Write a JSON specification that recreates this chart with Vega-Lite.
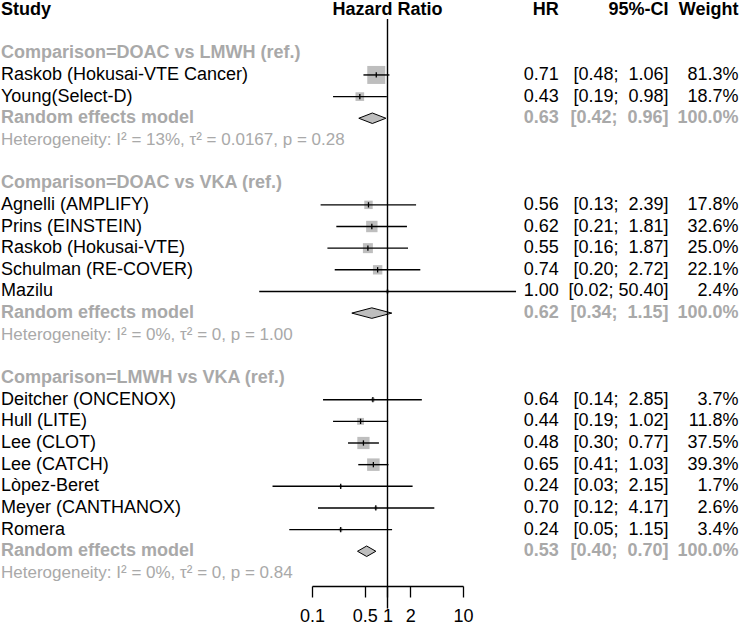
{
  "$schema": "https://vega.github.io/schema/vega-lite/v6.json",
  "padding": {"left": 1, "top": 0, "right": 0, "bottom": 0},
  "autosize": {"type": "pad"},
  "background": "white",
  "spacing": 0,
  "bounds": "flush",
  "config": {"view": {"stroke": null}, "font": "Liberation Sans", "text": {"font": "Liberation Sans", "fontSize": 18}},
  "datasets": {
    "rows": [
      {"row": 2, "kind": "group", "group": "DOAC vs LMWH", "label": "Comparison=DOAC vs LMWH (ref.)"},
      {"row": 3, "kind": "study", "group": "DOAC vs LMWH", "label": "Raskob (Hokusai-VTE Cancer)", "hr": 0.71, "lower": 0.48, "upper": 1.06, "ci": "[0.48;\u00a0\u00a01.06]", "w": 0.813},
      {"row": 4, "kind": "study", "group": "DOAC vs LMWH", "label": "Young(Select-D)", "hr": 0.43, "lower": 0.19, "upper": 0.98, "ci": "[0.19;\u00a0\u00a00.98]", "w": 0.187},
      {"row": 5, "kind": "summary", "group": "DOAC vs LMWH", "label": "Random effects model", "hr": 0.63, "lower": 0.42, "upper": 0.96, "ci": "[0.42;\u00a0\u00a00.96]", "w": 1},
      {"row": 6, "kind": "het", "group": "DOAC vs LMWH", "label": "Heterogeneity: I² = 13%, τ² = 0.0167, p = 0.28"},
      {"row": 8, "kind": "group", "group": "DOAC vs VKA", "label": "Comparison=DOAC vs VKA (ref.)"},
      {"row": 9, "kind": "study", "group": "DOAC vs VKA", "label": "Agnelli (AMPLIFY)", "hr": 0.56, "lower": 0.13, "upper": 2.39, "ci": "[0.13;\u00a0\u00a02.39]", "w": 0.178},
      {"row": 10, "kind": "study", "group": "DOAC vs VKA", "label": "Prins (EINSTEIN)", "hr": 0.62, "lower": 0.21, "upper": 1.81, "ci": "[0.21;\u00a0\u00a01.81]", "w": 0.326},
      {"row": 11, "kind": "study", "group": "DOAC vs VKA", "label": "Raskob (Hokusai-VTE)", "hr": 0.55, "lower": 0.16, "upper": 1.87, "ci": "[0.16;\u00a0\u00a01.87]", "w": 0.25},
      {"row": 12, "kind": "study", "group": "DOAC vs VKA", "label": "Schulman (RE-COVER)", "hr": 0.74, "lower": 0.2, "upper": 2.72, "ci": "[0.20;\u00a0\u00a02.72]", "w": 0.221},
      {"row": 13, "kind": "study", "group": "DOAC vs VKA", "label": "Mazilu", "hr": 1.0, "lower": 0.02, "upper": 50.4, "ci": "[0.02; 50.40]", "w": 0.024},
      {"row": 14, "kind": "summary", "group": "DOAC vs VKA", "label": "Random effects model", "hr": 0.62, "lower": 0.34, "upper": 1.15, "ci": "[0.34;\u00a0\u00a01.15]", "w": 1},
      {"row": 15, "kind": "het", "group": "DOAC vs VKA", "label": "Heterogeneity: I² = 0%, τ² = 0, p = 1.00"},
      {"row": 17, "kind": "group", "group": "LMWH vs VKA", "label": "Comparison=LMWH vs VKA (ref.)"},
      {"row": 18, "kind": "study", "group": "LMWH vs VKA", "label": "Deitcher (ONCENOX)", "hr": 0.64, "lower": 0.14, "upper": 2.85, "ci": "[0.14;\u00a0\u00a02.85]", "w": 0.037},
      {"row": 19, "kind": "study", "group": "LMWH vs VKA", "label": "Hull (LITE)", "hr": 0.44, "lower": 0.19, "upper": 1.02, "ci": "[0.19;\u00a0\u00a01.02]", "w": 0.118},
      {"row": 20, "kind": "study", "group": "LMWH vs VKA", "label": "Lee (CLOT)", "hr": 0.48, "lower": 0.3, "upper": 0.77, "ci": "[0.30;\u00a0\u00a00.77]", "w": 0.375},
      {"row": 21, "kind": "study", "group": "LMWH vs VKA", "label": "Lee (CATCH)", "hr": 0.65, "lower": 0.41, "upper": 1.03, "ci": "[0.41;\u00a0\u00a01.03]", "w": 0.393},
      {"row": 22, "kind": "study", "group": "LMWH vs VKA", "label": "Lòpez-Beret", "hr": 0.24, "lower": 0.03, "upper": 2.15, "ci": "[0.03;\u00a0\u00a02.15]", "w": 0.017},
      {"row": 23, "kind": "study", "group": "LMWH vs VKA", "label": "Meyer (CANTHANOX)", "hr": 0.7, "lower": 0.12, "upper": 4.17, "ci": "[0.12;\u00a0\u00a04.17]", "w": 0.026},
      {"row": 24, "kind": "study", "group": "LMWH vs VKA", "label": "Romera", "hr": 0.24, "lower": 0.05, "upper": 1.15, "ci": "[0.05;\u00a0\u00a01.15]", "w": 0.034},
      {"row": 25, "kind": "summary", "group": "LMWH vs VKA", "label": "Random effects model", "hr": 0.53, "lower": 0.4, "upper": 0.7, "ci": "[0.40;\u00a0\u00a00.70]", "w": 1},
      {"row": 26, "kind": "het", "group": "LMWH vs VKA", "label": "Heterogeneity: I² = 0%, τ² = 0, p = 0.84"}
    ]
  },
  "hconcat": [
    {
      "width": 310.7, "height": 584,
      "data": {"name": "rows"},
      "layer": [
        {
          "transform": [{"filter": "datum.kind === 'study'"}],
          "mark": {"type": "text", "align": "left", "baseline": "middle", "fontSize": 18, "color": "black"},
          "encoding": {"x": {"value": 0}, "y": {"field": "row", "type": "quantitative", "scale": {"domain": [-0.3695, 26.605], "reverse": true, "nice": false, "zero": false}, "axis": null}, "text": {"field": "label"}}
        },
        {
          "transform": [{"filter": "datum.kind === 'group' || datum.kind === 'summary'"}],
          "mark": {"type": "text", "align": "left", "baseline": "middle", "fontSize": 18, "fontWeight": "bold", "color": "#a9a9a9"},
          "encoding": {"x": {"value": 0}, "y": {"field": "row", "type": "quantitative", "scale": {"domain": [-0.3695, 26.605], "reverse": true, "nice": false, "zero": false}, "axis": null}, "text": {"field": "label"}}
        },
        {
          "transform": [{"filter": "datum.kind === 'het'"}],
          "mark": {"type": "text", "align": "left", "baseline": "middle", "fontSize": 17, "color": "#a9a9a9"},
          "encoding": {"x": {"value": 0}, "y": {"field": "row", "type": "quantitative", "scale": {"domain": [-0.3695, 26.605], "reverse": true, "nice": false, "zero": false}, "axis": null}, "text": {"field": "label"}}
        },
        {
          "data": {"values": [{}]},
          "mark": {"type": "text", "text": "Study", "align": "left", "baseline": "middle", "fontSize": 18, "fontWeight": "bold", "color": "black"},
          "encoding": {"x": {"value": 0}, "y": {"datum": 0, "type": "quantitative", "scale": {"domain": [-0.3695, 26.605], "reverse": true, "nice": false, "zero": false}, "axis": null}}
        }
      ]
    },
    {
      "width": 151, "height": 584,
      "data": {"name": "rows"},
      "layer": [
        {
          "transform": [{"filter": "datum.kind === 'study'"}],
          "mark": {"type": "point", "shape": "square", "filled": true, "color": "#bebebe", "opacity": 1, "strokeWidth": 0},
          "encoding": {
            "x": {"field": "hr", "type": "quantitative", "scale": {"type": "log", "domain": [0.1, 10], "nice": false},
                  "axis": {"values": [0.1, 0.5, 1, 2, 10], "format": "~g", "title": null, "grid": false, "domainColor": "black", "domainWidth": 1.3, "tickColor": "black", "tickWidth": 1.3, "tickSize": 11, "labelFontSize": 18, "labelColor": "black", "labelFont": "Liberation Sans", "labelPadding": 10, "labelFlush": false, "labelOverlap": false, "labelBound": false}},
            "y": {"field": "row", "type": "quantitative", "scale": {"domain": [-0.3695, 26.605], "reverse": true, "nice": false, "zero": false}, "axis": null},
            "size": {"field": "w", "type": "quantitative", "scale": {"domain": [0, 0.813], "range": [0, 324], "zero": true}, "legend": null}
          }
        },
        {
          "transform": [{"filter": "datum.kind === 'study'"}],
          "mark": {"type": "rule", "color": "black", "strokeWidth": 1.4},
          "encoding": {
            "x": {"field": "lower", "type": "quantitative"},
            "x2": {"field": "upper"},
            "y": {"field": "row", "type": "quantitative"}
          }
        },
        {
          "transform": [{"filter": "datum.kind === 'study'"}],
          "mark": {"type": "tick", "orient": "vertical", "size": 5.3, "thickness": 1.3, "color": "black", "opacity": 1},
          "encoding": {
            "x": {"field": "hr", "type": "quantitative"},
            "y": {"field": "row", "type": "quantitative"}
          }
        },
        {
          "transform": [{"filter": "datum.kind === 'summary'"}],
          "mark": {"type": "point", "filled": true, "fill": "#bebebe", "stroke": "black", "strokeWidth": 1, "size": 1600, "opacity": 1},
          "encoding": {
            "x": {"field": "hr", "type": "quantitative"},
            "y": {"field": "row", "type": "quantitative"},
            "shape": {"field": "group", "type": "nominal", "scale": {"domain": ["DOAC vs LMWH", "DOAC vs VKA", "LMWH vs VKA"], "range": ["M-0.678,0L0,-0.263L0.678,0L0,0.263Z", "M-1,0L0,-0.263L1,0L0,0.263Z", "M-0.459,0L0,-0.263L0.459,0L0,0.263Z"]}, "legend": null}
          }
        },
        {
          "data": {"values": [{}]},
          "mark": {"type": "rule", "color": "black", "strokeWidth": 1.4},
          "encoding": {
            "x": {"datum": 1, "type": "quantitative"},
            "y": {"datum": 0.416, "type": "quantitative"},
            "y2": {"datum": 27.65}
          }
        },
        {
          "data": {"values": [{}]},
          "mark": {"type": "text", "text": "Hazard Ratio", "align": "center", "baseline": "middle", "fontSize": 18, "fontWeight": "bold", "color": "black"},
          "encoding": {"y": {"datum": 0, "type": "quantitative"}}
        }
      ]
    },
    {
      "width": 95.8, "height": 584,
      "data": {"name": "rows"},
      "layer": [
        {
          "transform": [{"filter": "datum.kind === 'study'"}],
          "mark": {"type": "text", "align": "right", "baseline": "middle", "fontSize": 18, "color": "black"},
          "encoding": {"x": {"value": "width"}, "y": {"field": "row", "type": "quantitative", "scale": {"domain": [-0.3695, 26.605], "reverse": true, "nice": false, "zero": false}, "axis": null}, "text": {"field": "hr", "type": "quantitative", "format": ".2f"}}
        },
        {
          "transform": [{"filter": "datum.kind === 'summary'"}],
          "mark": {"type": "text", "align": "right", "baseline": "middle", "fontSize": 18, "fontWeight": "bold", "color": "#a9a9a9"},
          "encoding": {"x": {"value": "width"}, "y": {"field": "row", "type": "quantitative"}, "text": {"field": "hr", "type": "quantitative", "format": ".2f"}}
        },
        {
          "data": {"values": [{}]},
          "mark": {"type": "text", "text": "HR", "align": "right", "baseline": "middle", "fontSize": 18, "fontWeight": "bold", "color": "black"},
          "encoding": {"x": {"value": "width"}, "y": {"datum": 0, "type": "quantitative"}}
        }
      ]
    },
    {
      "width": 109.5, "height": 584,
      "data": {"name": "rows"},
      "layer": [
        {
          "transform": [{"filter": "datum.kind === 'study'"}],
          "mark": {"type": "text", "align": "right", "baseline": "middle", "fontSize": 18, "color": "black"},
          "encoding": {"x": {"value": "width"}, "y": {"field": "row", "type": "quantitative", "scale": {"domain": [-0.3695, 26.605], "reverse": true, "nice": false, "zero": false}, "axis": null}, "text": {"field": "ci"}}
        },
        {
          "transform": [{"filter": "datum.kind === 'summary'"}],
          "mark": {"type": "text", "align": "right", "baseline": "middle", "fontSize": 18, "fontWeight": "bold", "color": "#a9a9a9"},
          "encoding": {"x": {"value": "width"}, "y": {"field": "row", "type": "quantitative"}, "text": {"field": "ci"}}
        },
        {
          "data": {"values": [{}]},
          "mark": {"type": "text", "text": "95%-CI", "align": "right", "baseline": "middle", "fontSize": 18, "fontWeight": "bold", "color": "black"},
          "encoding": {"x": {"value": "width"}, "y": {"datum": 0, "type": "quantitative"}}
        }
      ]
    },
    {
      "width": 69.5, "height": 584,
      "data": {"name": "rows"},
      "layer": [
        {
          "transform": [{"filter": "datum.kind === 'study'"}],
          "mark": {"type": "text", "align": "right", "baseline": "middle", "fontSize": 18, "color": "black"},
          "encoding": {"x": {"value": "width"}, "y": {"field": "row", "type": "quantitative", "scale": {"domain": [-0.3695, 26.605], "reverse": true, "nice": false, "zero": false}, "axis": null}, "text": {"field": "w", "type": "quantitative", "format": ".1%"}}
        },
        {
          "transform": [{"filter": "datum.kind === 'summary'"}],
          "mark": {"type": "text", "align": "right", "baseline": "middle", "fontSize": 18, "fontWeight": "bold", "color": "#a9a9a9"},
          "encoding": {"x": {"value": "width"}, "y": {"field": "row", "type": "quantitative"}, "text": {"field": "w", "type": "quantitative", "format": ".1%"}}
        },
        {
          "data": {"values": [{}]},
          "mark": {"type": "text", "text": "Weight", "align": "right", "baseline": "middle", "fontSize": 18, "fontWeight": "bold", "color": "black"},
          "encoding": {"x": {"value": "width"}, "y": {"datum": 0, "type": "quantitative"}}
        }
      ]
    }
  ]
}
